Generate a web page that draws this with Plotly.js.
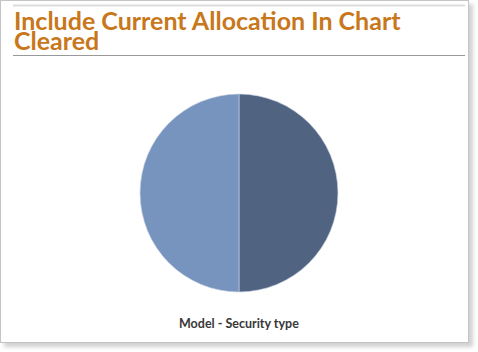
<!DOCTYPE html>
<html>
<head>
<meta charset="utf-8">
<script src="https://cdn.plot.ly/plotly-3.0.1.min.js"></script>
<style>
html,body{margin:0;padding:0;background:#fff;}
#card{position:absolute;left:0;top:0;width:467px;height:341px;border:1px solid #c4c4c4;background:#fff;box-shadow:4px 4px 4px rgba(0,0,0,0.18);}
#chart{position:absolute;left:0;top:0;width:478px;height:352px;}
</style>
</head>
<body>
<div id="card"></div>
<div id="chart"></div>
<script>
const titleLines = ["Include Current Allocation In Chart", "Cleared"];
const subTitle = "Model - Security type";
const sliceLabels = ["Equity", "Fixed Income"];
const sliceValues = [50, 50];
const sliceColors = ["#506381", "#7794BF"];

const W = 478, H = 352;
const cx = 239, cy = 193, r = 99;
const titleMid = [20.5, 40.5];

const annotations = titleLines.map((t, i) => ({
  text: "<b>" + t + "</b>",
  xref: "paper", yref: "paper",
  x: 12 / W, y: 1 - titleMid[i] / H, xanchor: "left", yanchor: "middle",
  showarrow: false,
  font: {family: "Lato, sans-serif", size: 25, color: "#C8771A"}
}));
annotations.push({
  text: "<b>" + subTitle + "</b>",
  xref: "paper", yref: "paper",
  x: 239 / W, y: 1 - 323 / H, xanchor: "center", yanchor: "middle",
  showarrow: false,
  font: {family: "Lato, sans-serif", size: 12.5, color: "#383838"}
});

Plotly.newPlot("chart", [{
  type: "pie",
  labels: sliceLabels,
  values: sliceValues,
  sort: false,
  direction: "clockwise",
  rotation: 0,
  textinfo: "none",
  hoverinfo: "label+percent",
  marker: {colors: sliceColors, line: {color: "#c9d3e3", width: 0.6}},
  domain: {x: [(cx - r) / W, (cx + r) / W], y: [(H - cy - r) / H, (H - cy + r) / H]},
  showlegend: false
}], {
  width: W, height: H,
  margin: {l: 0, r: 0, t: 0, b: 0},
  paper_bgcolor: "rgba(0,0,0,0)",
  plot_bgcolor: "rgba(0,0,0,0)",
  shapes: [
    {type: "line", xref: "paper", yref: "paper", x0: 13 / W, x1: 465 / W, y0: 1 - 5.5 / H, y1: 1 - 5.5 / H, line: {color: "#dcdcdc", width: 2}},
    {type: "line", xref: "paper", yref: "paper", x0: 13 / W, x1: 465 / W, y0: 1 - 55.5 / H, y1: 1 - 55.5 / H, line: {color: "#999999", width: 1}}
  ],
  annotations: annotations
}, {displayModeBar: false, staticPlot: true});
</script>
</body>
</html>
